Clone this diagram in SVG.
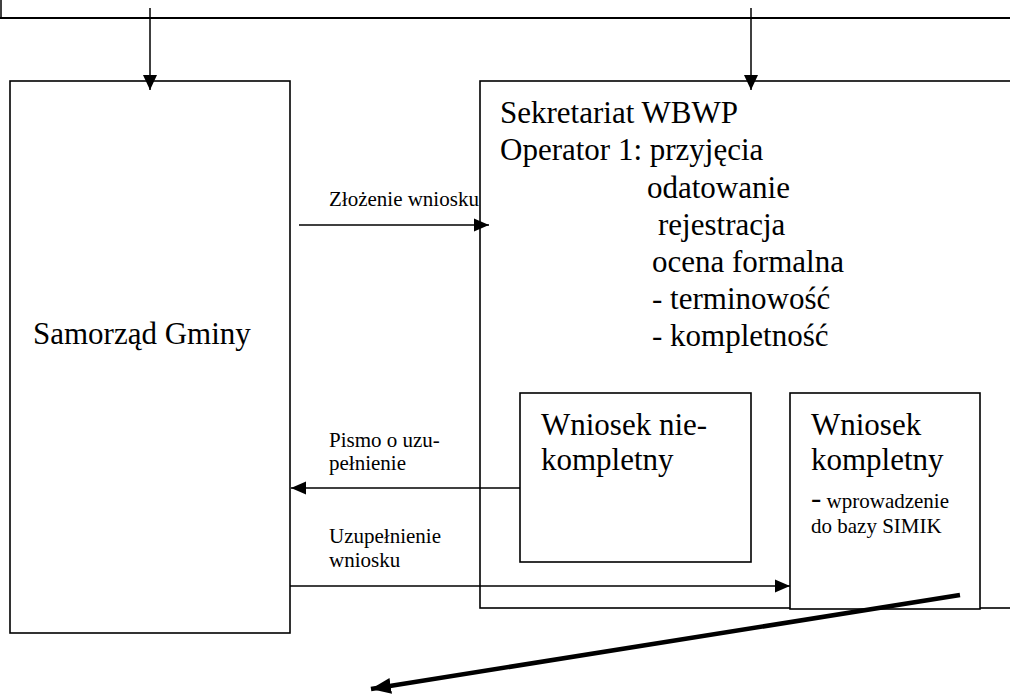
<svg xmlns="http://www.w3.org/2000/svg" width="1010" height="695" viewBox="0 0 1010 695">
<style>
.box{fill:#fff;stroke:#000;stroke-width:1.6}
.big{font-family:"Liberation Serif","Times New Roman",serif;font-size:31px;fill:#000}
.sm{font-family:"Liberation Serif","Times New Roman",serif;font-size:21px;fill:#000}
.ln{stroke:#000;stroke-width:1.5;fill:none}
</style>
<defs>
<marker id="ah" markerUnits="userSpaceOnUse" markerWidth="16" markerHeight="16" viewBox="0 0 16 16" refX="15" refY="8" orient="auto">
<path d="M0,1.5 L15,8 L0,14.5 Z" fill="#000"/>
</marker>
<marker id="ahv" markerUnits="userSpaceOnUse" markerWidth="16" markerHeight="16" viewBox="0 0 16 16" refX="15" refY="8" orient="auto">
<path d="M0,1 L15,8 L0,15 Z" fill="#000"/>
</marker>
<marker id="ahb" markerUnits="userSpaceOnUse" markerWidth="22" markerHeight="22" viewBox="0 0 22 22" refX="20" refY="11" orient="auto">
<path d="M0,3 L20,11 L0,19 Z" fill="#000"/>
</marker>
</defs>
<rect width="1010" height="695" fill="#fff"/>

<g id="top-bar">
<line x1="0" y1="18" x2="1010" y2="18" stroke="#000" stroke-width="2"/>
<line x1="1" y1="0" x2="1" y2="18" stroke="#000" stroke-width="1.5"/>
</g>

<g id="samorzad">
<rect class="box" x="10" y="81" width="280" height="552"/>
<text class="big" x="33" y="344">Samorząd Gminy</text>
</g>

<g id="sekretariat">
<rect class="box" x="480" y="81" width="545" height="527"/>
<text class="big" x="500" y="123">Sekretariat WBWP</text>
<text class="big" x="500" y="160">Operator 1: przyjęcia</text>
<text class="big" x="647" y="198">odatowanie</text>
<text class="big" x="658" y="235">rejestracja</text>
<text class="big" x="652" y="272">ocena formalna</text>
<text class="big" x="652" y="309">- terminowość</text>
<text class="big" x="652" y="346">- kompletność</text>
</g>

<g id="wniosek-niekompletny">
<rect class="box" x="520" y="393" width="231" height="169"/>
<text class="big" x="541" y="435">Wniosek nie-</text>
<text class="big" x="541" y="470">kompletny</text>
</g>

<g id="wniosek-kompletny">
<rect class="box" x="790" y="393" width="190" height="216"/>
<text class="big" x="811" y="435">Wniosek</text>
<text class="big" x="811" y="470">kompletny</text>
<text class="sm" x="811" y="508"><tspan class="big">-</tspan> wprowadzenie</text>
<text class="sm" x="811" y="533">do bazy SIMIK</text>
</g>

<g id="connectors">
<line class="ln" x1="150" y1="8" x2="150" y2="90" marker-end="url(#ahv)"/>
<line class="ln" x1="751" y1="8" x2="751" y2="90" marker-end="url(#ahv)"/>
<line class="ln" x1="299" y1="225" x2="489" y2="225" marker-end="url(#ah)"/>
<line class="ln" x1="520" y1="488" x2="291" y2="488" marker-end="url(#ah)"/>
<line class="ln" x1="290" y1="586" x2="790" y2="586" marker-end="url(#ah)"/>
<line x1="960" y1="595" x2="371" y2="689" stroke="#000" stroke-width="4.5" marker-end="url(#ahb)"/>
</g>

<g id="labels">
<text class="sm" x="329" y="206">Złożenie wniosku</text>
<text class="sm" x="329" y="447">Pismo o uzu-</text>
<text class="sm" x="329" y="470">pełnienie</text>
<text class="sm" x="329" y="543">Uzupełnienie</text>
<text class="sm" x="329" y="567">wniosku</text>
</g>
</svg>
